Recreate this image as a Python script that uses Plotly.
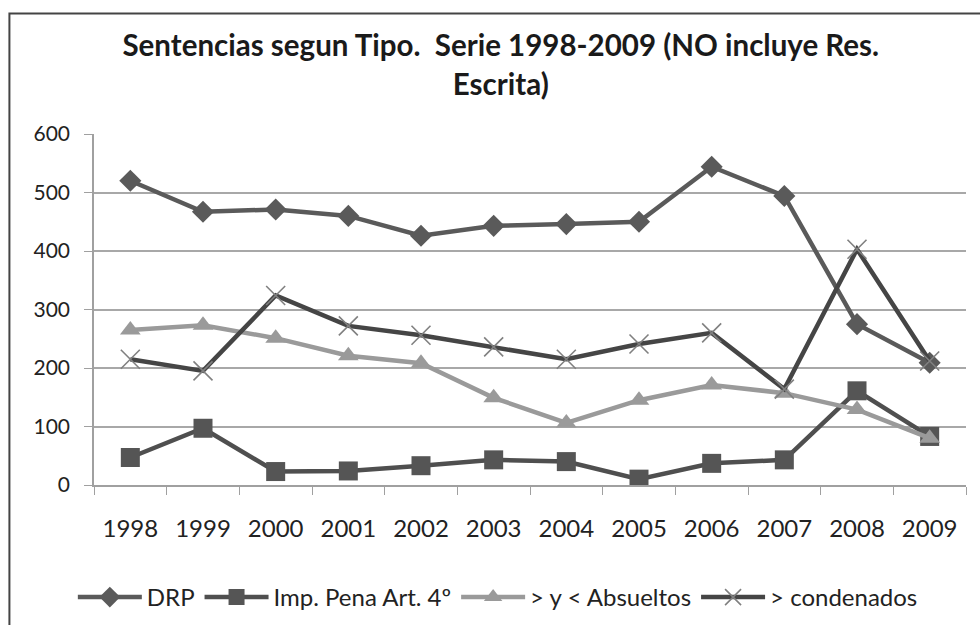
import plotly.graph_objects as go

years = ["1998", "1999", "2000", "2001", "2002", "2003", "2004", "2005", "2006", "2007", "2008", "2009"]
drp = [520, 467, 471, 460, 426, 443, 446, 450, 544, 494, 275, 209]
imp_pena = [47, 97, 23, 24, 33, 43, 40, 10, 37, 43, 161, 83]
absueltos = [265, 273, 251, 221, 208, 149, 106, 145, 171, 157, 129, 80]
condenados = [215, 195, 324, 272, 256, 236, 215, 241, 260, 164, 403, 212]

FONT = "Lato, Roboto, Arial, sans-serif"

fig = go.Figure()
fig.add_trace(go.Scatter(x=years, y=drp, name="DRP", mode="lines+markers",
                         line=dict(color="#5a5a5a", width=4.5),
                         marker=dict(symbol="diamond", size=17, color="#5a5a5a")))
fig.add_trace(go.Scatter(x=years, y=imp_pena, name="Imp. Pena Art. 4º", mode="lines+markers",
                         line=dict(color="#4f4f4f", width=4.5),
                         marker=dict(symbol="square", size=19, color="#555555")))
fig.add_trace(go.Scatter(x=years, y=absueltos, name="> y < Absueltos", mode="lines+markers",
                         line=dict(color="#9a9a9a", width=4.5),
                         marker=dict(symbol="triangle-up", size=18, color="#9a9a9a")))
fig.add_trace(go.Scatter(x=years, y=condenados, name="> condenados", mode="lines+markers",
                         line=dict(color="#454545", width=4.5),
                         marker=dict(symbol="x-thin", size=19, color="#808080",
                                     line=dict(width=1.6, color="#808080"))))

fig.update_layout(
    width=980, height=625,
    margin=dict(l=94, r=14, t=134, b=140),
    paper_bgcolor="white", plot_bgcolor="white",
    font=dict(family=FONT, size=20, color="#222222"),
    title=dict(text="<b>Sentencias segun Tipo.  Serie 1998-2009 (NO incluye Res.<br>Escrita)</b>",
               x=0.511, xanchor="center", xref="container", y=0.91, yanchor="top",
               font=dict(family=FONT, size=29.5, color="#1a1a1a")),
    showlegend=True,
    legend=dict(orientation="h", xref="container", x=0.508, xanchor="center",
                yref="container", y=0.044, yanchor="middle",
                font=dict(family=FONT, size=24, color="#222222"),
                itemwidth=64, tracegroupgap=0),
    xaxis=dict(type="category", range=[-0.5, 11.5], showgrid=False,
               showline=True, linecolor="#a0a0a0", linewidth=1.5,
               ticks="outside", tickson="boundaries", ticklen=8, tickcolor="#a0a0a0",
               tickfont=dict(family=FONT, size=24, color="#222222"),
               ticklabelstandoff=21),
    yaxis=dict(range=[0, 600], tickvals=[0, 100, 200, 300, 400, 500, 600],
               showgrid=True, gridcolor="#a8a8a8", gridwidth=1.5,
               showline=True, linecolor="#a0a0a0", linewidth=1.5,
               ticks="outside", ticklen=8, tickcolor="#a0a0a0",
               zeroline=False,
               tickfont=dict(family=FONT, size=21, color="#222222"),
               ticklabelstandoff=10),
)

fig.add_shape(type="rect", xref="paper", yref="paper",
              x0=-0.097, x1=1.03, y0=-0.45, y1=1.343,
              line=dict(color="#444444", width=2), fillcolor="rgba(0,0,0,0)", layer="below")

fig.write_html("out.html", config={"displayModeBar": False},
               post_script="document.body.style.margin='0';document.body.style.overflow='hidden';")
